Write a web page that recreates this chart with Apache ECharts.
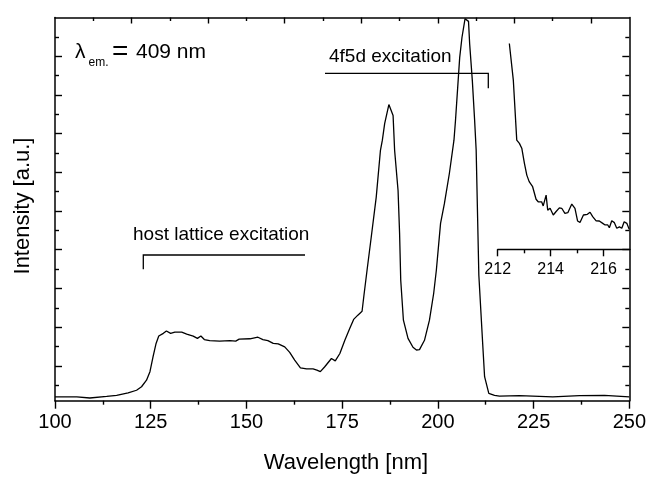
<!DOCTYPE html>
<html>
<head>
<meta charset="utf-8">
<script src="https://cdn.jsdelivr.net/npm/echarts@6/dist/echarts.min.js"></script>
<style>
  html, body { margin: 0; padding: 0; background: #fff; }
  #chart { width: 649px; height: 477px; }
</style>
</head>
<body>
<div id="chart"></div>
<script>
// Excitation spectrum (emission monitored at 409 nm)
const wavelength = [
  100, 105.7, 109.1, 113.5, 116.1, 119.1, 121.3, 122.6, 123.9, 124.8,
  125.6, 126.4, 127.1, 128.3, 129.1, 130.2, 131.3, 133.1, 134.4, 136.1,
  137.2, 138.1, 139.0, 140.4, 143.0, 145.7, 147.2, 148.1, 150.9, 153.0,
  154.3, 155.6, 157.0, 158.3, 160.0, 161.3, 162.6, 164.1, 165.7, 167.4,
  168.4, 169.3, 170.4, 172.2, 173.2, 174.4, 175.7, 177.0, 178.0, 179.1,
  180.2, 180.7, 181.5, 182.6, 183.9, 185.0, 185.5, 186.1, 187.2, 188.3,
  188.7, 189.6, 190.0, 190.3, 191.0, 192.2, 193.5, 194.4, 195.2, 196.5,
  197.8, 198.9, 199.6, 200.7, 201.7, 203.0, 204.2, 204.6, 205.7, 206.3,
  207.1, 208.0, 208.3, 209.0, 209.6, 210.0, 210.7, 211.7, 212.2, 213.3,
  214.8, 216.1, 221.3, 230.0, 237.0, 243.5, 250
];
const intensity = [
  0.20, 0.20, 0.17, 0.21, 0.24, 0.30, 0.37, 0.46, 0.63, 0.85,
  1.23, 1.58, 1.77, 1.84, 1.90, 1.84, 1.87, 1.87, 1.82, 1.77,
  1.71, 1.77, 1.68, 1.65, 1.64, 1.65, 1.64, 1.69, 1.70, 1.74,
  1.68, 1.65, 1.58, 1.57, 1.49, 1.35, 1.15, 0.95, 0.92, 0.92,
  0.89, 0.85, 0.97, 1.19, 1.13, 1.32, 1.66, 1.97, 2.20, 2.31,
  2.41, 2.83, 3.47, 4.33, 5.36, 6.57, 6.83, 7.26, 7.75, 7.47,
  6.57, 5.53, 4.42, 3.21, 2.18, 1.71, 1.48, 1.41, 1.42, 1.66,
  2.18, 2.87, 3.47, 4.68, 5.19, 5.97, 6.83, 7.34, 8.97, 9.49,
  9.97, 9.90, 9.32, 8.37, 7.34, 6.57, 3.34, 1.58, 0.72, 0.29,
  0.24, 0.22, 0.23, 0.20, 0.23, 0.24, 0.20
];

// Magnified tail of the 4f5d band
const insetWavelength = [
  212.44, 212.59, 212.72, 212.82, 212.91, 213.01, 213.10, 213.19, 213.32, 213.45,
  213.53, 213.60, 213.66, 213.72, 213.83, 213.89, 213.98, 214.10, 214.20, 214.33,
  214.42, 214.54, 214.65, 214.80, 214.92, 215.02, 215.11, 215.24, 215.39, 215.49,
  215.59, 215.72, 215.84, 215.97, 216.06, 216.16, 216.22, 216.31, 216.41, 216.50,
  216.60, 216.69, 216.78, 216.88, 216.97
];
const insetIntensity = [
  8.88, 7.30, 4.71, 4.57, 4.36, 3.71, 3.20, 2.92, 2.70, 2.16,
  2.05, 2.10, 2.05, 1.87, 2.34, 1.69, 1.77, 1.48, 1.62, 1.79,
  1.77, 1.55, 1.58, 1.95, 1.77, 1.22, 1.16, 1.48, 1.51, 1.60,
  1.41, 1.23, 1.22, 1.12, 1.05, 1.05, 0.93, 1.23, 1.15, 0.91,
  0.97, 0.91, 1.19, 1.12, 0.86
];

// Tick positions
const topMajorTicks = [120, 140, 160, 180, 200, 220, 240];
const topMinorTicks = [110, 130, 150, 170, 190, 210, 230];
const yMajorTicks = [1, 2, 3, 4, 5, 6, 7, 8, 9];
const yMinorTicks = [0.5, 1.5, 2.5, 3.5, 4.5, 5.5, 6.5, 7.5, 8.5, 9.5];
const insetMajorTicks = [212, 214, 216];
const insetMinorTicks = [213, 215];

const FONT = 'Liberation Sans';
const INK = '#000';

const mainData = wavelength.map((w, i) => [w, intensity[i]]);
const insetData = insetWavelength.map((w, i) => [w, insetIntensity[i]]);

const frameLine = { show: true, lineStyle: { color: INK, width: 1.5 } };
const noLine = { show: false };

function tickOnly(position, values, length, inside, gridIndex, extra) {
  return Object.assign({
    type: 'value',
    gridIndex: gridIndex,
    position: position,
    axisLine: noLine,
    axisTick: { show: true, inside: inside, length: length, customValues: values,
                lineStyle: { color: INK, width: 1.4 } },
    axisLabel: { show: false },
    splitLine: { show: false }
  }, extra || {});
}

const chart = echarts.init(document.getElementById('chart'), null, { renderer: 'canvas' });

chart.setOption({
  animation: false,
  backgroundColor: '#fff',
  grid: [
    { left: 55, right: 19, top: 17.5, bottom: 76.3 },
    { left: 497.7, right: 19, top: 17.5, bottom: 227.7 }
  ],
  xAxis: [
    {
      type: 'value', gridIndex: 0, position: 'bottom',
      min: 100, max: 250, interval: 25,
      axisLine: frameLine,
      axisTick: { show: true, inside: false, length: 8, lineStyle: { color: INK, width: 1.4 } },
      minorTick: { show: true, splitNumber: 2, length: 4, lineStyle: { color: INK, width: 1.4 } },
      axisLabel: { color: INK, fontSize: 20, fontFamily: FONT, margin: 12 },
      splitLine: { show: false }
    },
    Object.assign(tickOnly('top', topMajorTicks, 6, true, 0), { min: 100, max: 250, axisLine: frameLine }),
    Object.assign(tickOnly('top', topMinorTicks, 3.5, true, 0), { min: 100, max: 250 }),
    {
      type: 'value', gridIndex: 1, position: 'bottom',
      min: 212, max: 217,
      axisLine: { show: true, lineStyle: { color: INK, width: 1.4 } },
      axisTick: { show: true, inside: false, length: 7, customValues: insetMajorTicks,
                  lineStyle: { color: INK, width: 1.4 } },
      axisLabel: { color: INK, fontSize: 16, fontFamily: FONT, margin: 12,
                   customValues: insetMajorTicks },
      splitLine: { show: false }
    },
    Object.assign(tickOnly('bottom', insetMinorTicks, 4, false, 1), { min: 212, max: 217 })
  ],
  yAxis: [
    Object.assign(tickOnly('left', yMajorTicks, 7, true, 0), { min: 0.1, max: 10, axisLine: frameLine }),
    Object.assign(tickOnly('left', yMinorTicks, 4, true, 0), { min: 0.1, max: 10 }),
    Object.assign(tickOnly('right', yMajorTicks, 7, true, 0), { min: 0.1, max: 10, axisLine: frameLine }),
    Object.assign(tickOnly('right', yMinorTicks, 4, true, 0), { min: 0.1, max: 10 }),
    { type: 'value', gridIndex: 1, min: 0, max: 10, show: false }
  ],
  series: [
    {
      type: 'line', xAxisIndex: 0, yAxisIndex: 0,
      data: mainData, symbol: 'none', showSymbol: false,
      lineStyle: { color: INK, width: 1.3 }
    },
    {
      type: 'line', xAxisIndex: 3, yAxisIndex: 4,
      data: insetData, symbol: 'none', showSymbol: false,
      lineStyle: { color: INK, width: 1.3 }
    }
  ],
  graphic: [
    // axis titles
    { type: 'text', x: 346, y: 463,
      style: { text: 'Wavelength [nm]', fontSize: 22, fontFamily: FONT, fill: INK,
               align: 'center', verticalAlign: 'middle' } },
    { type: 'text', x: 23, y: 206, rotation: Math.PI / 2,
      style: { text: 'Intensity [a.u.]', fontSize: 22, fontFamily: FONT, fill: INK,
               align: 'center', verticalAlign: 'middle' } },
    // emission wavelength note
    { type: 'text', x: 75, y: 52,
      style: { text: 'λ', fontSize: 21, fontFamily: FONT, fill: INK, align: 'left', verticalAlign: 'middle' } },
    { type: 'text', x: 88.5, y: 63,
      style: { text: 'em.', fontSize: 12, fontFamily: FONT, fill: INK, align: 'left', verticalAlign: 'middle' } },
    { type: 'text', x: 112, y: 52,
      style: { text: '=', fontSize: 28, fontFamily: FONT, fill: INK, align: 'left', verticalAlign: 'middle' } },
    { type: 'text', x: 136, y: 52,
      style: { text: '409 nm', fontSize: 21, fontFamily: FONT, fill: INK, align: 'left', verticalAlign: 'middle' } },
    // band annotations
    { type: 'text', x: 329, y: 56.5,
      style: { text: '4f5d excitation', fontSize: 19, fontFamily: FONT, fill: INK, align: 'left', verticalAlign: 'middle' } },
    { type: 'polyline',
      shape: { points: [[325, 73.3], [488.3, 73.3], [488.3, 88.3]] },
      style: { stroke: INK, lineWidth: 1.3, fill: null } },
    { type: 'text', x: 133, y: 235,
      style: { text: 'host lattice excitation', fontSize: 19, fontFamily: FONT, fill: INK, align: 'left', verticalAlign: 'middle' } },
    { type: 'polyline',
      shape: { points: [[143.3, 269.3], [143.3, 255], [305, 255]] },
      style: { stroke: INK, lineWidth: 1.3, fill: null } }
  ]
});
</script>
</body>
</html>
